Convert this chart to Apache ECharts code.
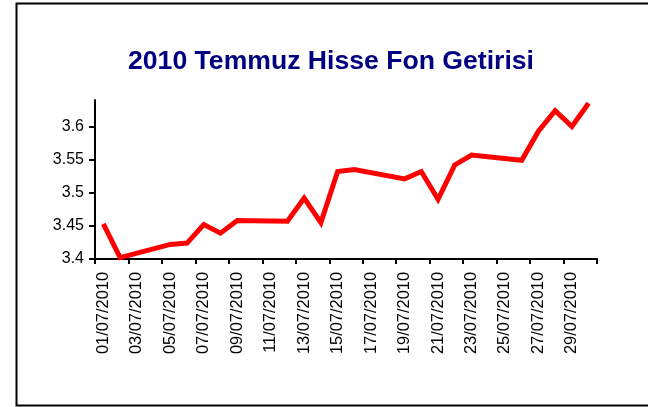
<!DOCTYPE html>
<html>
<head>
<meta charset="utf-8">
<script src="https://cdn.jsdelivr.net/npm/echarts@6/dist/echarts.min.js"></script>
<style>
html,body{margin:0;padding:0;background:#fff;}
#c{width:648px;height:407px;}
</style>
</head>
<body>
<div id="c"></div>
<script>
// Tick-label categories: every calendar day on the axis
var axisDays = ['01/07/2010','02/07/2010','03/07/2010','04/07/2010','05/07/2010','06/07/2010','07/07/2010','08/07/2010','09/07/2010','10/07/2010',
  '11/07/2010','12/07/2010','13/07/2010','14/07/2010','15/07/2010','16/07/2010','17/07/2010','18/07/2010','19/07/2010','20/07/2010',
  '21/07/2010','22/07/2010','23/07/2010','24/07/2010','25/07/2010','26/07/2010','27/07/2010','28/07/2010','29/07/2010','30/07/2010'];
// Trading days with observations
var dates = ['01/07/2010','02/07/2010','05/07/2010','06/07/2010','07/07/2010','08/07/2010','09/07/2010',
  '12/07/2010','13/07/2010','14/07/2010','15/07/2010','16/07/2010','19/07/2010','20/07/2010','21/07/2010',
  '22/07/2010','23/07/2010','26/07/2010','27/07/2010','28/07/2010','29/07/2010','30/07/2010'];
var values = [3.453, 3.402, 3.422, 3.424, 3.452, 3.439, 3.458,
  3.457, 3.492, 3.455, 3.532, 3.535, 3.521, 3.532, 3.490,
  3.542, 3.557, 3.549, 3.593, 3.624, 3.600, 3.635];
var yTicks = [3.4, 3.45, 3.5, 3.55, 3.6];

var font = "'Liberation Sans', Arial, sans-serif";
var chart = echarts.init(document.getElementById('c'), null, {renderer: 'canvas'});
var seriesData = dates.map(function (d, i) { return [d, values[i]]; });

chart.setOption({
  animation: false,
  backgroundColor: '#ffffff',
  graphic: [{
    type: 'rect',
    shape: {x: 16.5, y: 3.5, width: 700, height: 402},
    style: {fill: 'none', stroke: '#000000', lineWidth: 2},
    silent: true
  }],
  title: {
    text: '2010 Temmuz Hisse Fon Getirisi',
    left: 326,
    textAlign: 'center',
    top: 43,
    textStyle: {fontFamily: font, fontSize: 26.6, fontWeight: 'bold', color: '#000080'}
  },
  grid: {left: 95, right: 51, top: 100, bottom: 148, containLabel: false},
  xAxis: {
    type: 'category',
    data: axisDays,
    boundaryGap: true,
    axisLine: {lineStyle: {color: '#000', width: 2}},
    axisTick: {show: true, interval: 1, length: 5, lineStyle: {color: '#000', width: 2}},
    axisLabel: {interval: 1, rotate: 90, margin: 13, fontFamily: font, fontSize: 16.4, color: '#000'},
    splitLine: {show: false}
  },
  yAxis: {
    type: 'value',
    min: 3.4, max: 3.64, interval: 0.05,
    axisLine: {show: true, lineStyle: {color: '#000', width: 2}},
    axisTick: {show: true, length: 6, customValues: yTicks, lineStyle: {color: '#000', width: 2}},
    axisLabel: {customValues: yTicks, margin: 11, fontFamily: font, fontSize: 16, color: '#000',
      formatter: function (v) { return String(Math.round(v * 100) / 100); }},
    splitLine: {show: false}
  },
  series: [{
    type: 'line',
    data: seriesData,
    showSymbol: false,
    symbol: 'none',
    lineStyle: {color: '#ff0000', width: 5, join: 'miter'},
    itemStyle: {color: '#ff0000'}
  }]
});
</script>
</body>
</html>
